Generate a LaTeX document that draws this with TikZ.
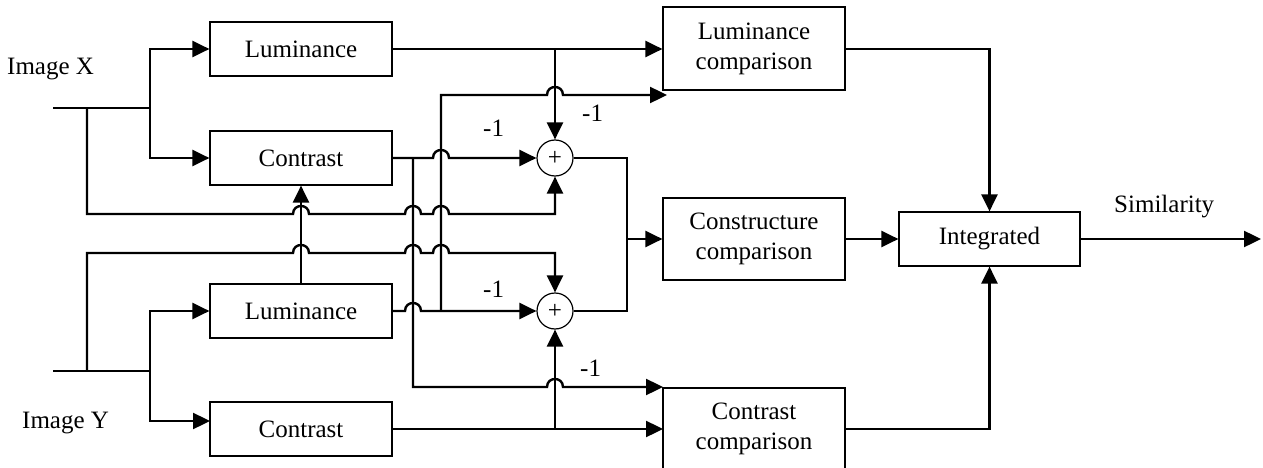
\documentclass[tikz,border=0pt]{standalone}
\usepackage{fontspec}
\setmainfont{Liberation Serif}
\usetikzlibrary{arrows.meta}
\begin{document}
\begin{tikzpicture}[x=1pt,y=-1pt,
  every node/.style={font=\fontsize{25}{30}\selectfont},
  blk/.style={draw, line width=1.2pt, inner sep=0pt, align=center},
  sumnode/.style={draw, circle, line width=1.2pt, minimum size=36pt, inner sep=0pt},
  wire/.style={line width=2.4pt},
  arr/.style={wire, -{Triangle[length=17pt,width=16pt]}},
  lbl/.style={anchor=base west, inner sep=0pt},
  hop/.style 2 args={insert path={-- ({#1-8},#2) .. controls ({#1-8},{#2-10.7}) and ({#1+8},{#2-10.7}) .. ({#1+8},#2)}},
]
\useasboundingbox (0,0) rectangle (1263,468);

% processing blocks
\node[blk, minimum width=182pt, minimum height=54pt] (lumX) at (301,49) {Luminance};
\node[blk, minimum width=182pt, minimum height=54pt] (conX) at (301,158) {Contrast};
\node[blk, minimum width=182pt, minimum height=54pt] (lumY) at (301,311) {Luminance};
\node[blk, minimum width=182pt, minimum height=54pt] (conY) at (301,429) {Contrast};
\node[blk, minimum width=182pt, minimum height=83pt] (lumC) at (754,48.5) {Luminance\\comparison};
\node[blk, minimum width=182pt, minimum height=82pt] (strC) at (754,239) {Constructure\\comparison};
\node[blk, minimum width=182pt, minimum height=82pt] (conC) at (754,429) {Contrast\\comparison};
\node[blk, minimum width=181pt, minimum height=54pt] (integ) at (989.5,239) {Integrated};
\node[sumnode] (sum1) at (555,158) {+};
\node[sumnode] (sum2) at (555,311) {+};

% labels
\node[lbl] (lblX) at (7,75) {Image X};
\node[lbl] (lblY) at (22,428) {Image Y};
\node[lbl] (lblS) at (1114,212) {Similarity};
\node[lbl] (m1) at (483,137) {-1};
\node[lbl] (m2) at (582,122) {-1};
\node[lbl] (m3) at (483,297) {-1};
\node[lbl] (m4) at (580,376) {-1};

% branch points and free ends
\coordinate (inX) at (53,108);
\coordinate (splX) at (150,108);
\coordinate (tapX) at (87,108);
\coordinate (inY) at (53,371);
\coordinate (splY) at (150,371);
\coordinate (tapY) at (87,371);
\coordinate (conYin) at (210,421);
\coordinate (jLX) at (555,49);
\coordinate (jCX) at (413,158);
\coordinate (jLY) at (441,311);
\coordinate (jCY) at (555,429);
\coordinate (lCin2) at (667,95);
\coordinate (cCin1) at (663,387);
\coordinate (cCin2) at (663,429);
\coordinate (jSum) at (627,239);
\coordinate (simOut) at (1261,239);

% image X
\draw[wire] (inX) -- (splX);
\draw[arr] (splX) |- (lumX.west);
\draw[arr] (splX) |- (conX.west);
\draw[arr] (tapX) -- (87,214) [hop={301}{214}] [hop={413}{214}] [hop={441}{214}] -| (sum1.south);

% image Y
\draw[wire] (inY) -- (splY);
\draw[arr] (splY) |- (lumY.west);
\draw[arr] (splY) |- (conYin);
\draw[arr] (tapY) -- (87,253) [hop={301}{253}] [hop={413}{253}] [hop={441}{253}] -| (sum2.north);

\draw[arr] (lumY.north) -- (conX.south);

% luminance / contrast outputs
\draw[arr] (lumX.east) -- (lumC.west |- lumX.east);
\draw[arr] (jLX) -- (sum1.north);
\draw[arr] (conX.east) [hop={441}{158}] -- (sum1.west);
\draw[arr] (jCX) -- (413,387) [hop={555}{387}] -- (cCin1);
\draw[arr] (lumY.east) [hop={413}{311}] -- (sum2.west);
\draw[arr] (jLY) -- (441,95) [hop={555}{95}] -- (lCin2);
\draw[arr] (conY.east) -- (cCin2);
\draw[arr] (jCY) -- (sum2.south);

% structure path
\draw[wire] (sum1.east) -| (jSum) |- (sum2.east);
\draw[arr] (jSum) -- (strC.west);

% pooling
\draw[arr] (lumC.east |- lumX.east) -| (integ.north);
\draw[arr] (strC.east) -- (integ.west);
\draw[arr] (conC.east) -| (integ.south);
\draw[arr] (integ.east) -- (simOut);
\end{tikzpicture}
\end{document}
